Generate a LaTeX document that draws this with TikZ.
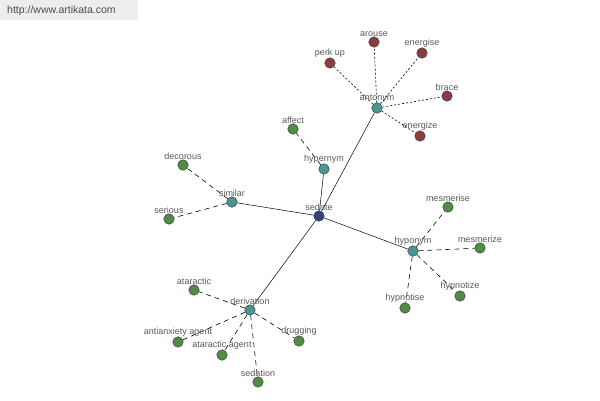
\documentclass[tikz,border=0pt]{standalone}
\usepackage{fontspec}
\setmainfont{Liberation Sans}
\usetikzlibrary{backgrounds}
\begin{document}
\begin{tikzpicture}[x=1pt,y=-1pt,
  dot/.style={circle,draw=black!75,line width=0.5pt,minimum size=10.5pt,inner sep=0pt,
    label={[lbl]above:#1}},
  lbl/.style={text=black!65,font=\fontsize{9}{10}\selectfont,inner sep=1pt,yshift=-1pt},
  teal/.style={fill=tealc},
  grn/.style={fill=greenc},
  red/.style={fill=redc},
  blu/.style={fill=bluec},
  main/.style={draw=black,line width=0.5pt},
  dsh/.style={draw=black,line width=0.6pt,dash pattern=on 5pt off 4pt},
  dot2/.style={draw=black,line width=0.6pt,dash pattern=on 2pt off 2pt}]
\definecolor{tealc}{RGB}{70,150,150}
\definecolor{greenc}{RGB}{80,140,70}
\definecolor{redc}{RGB}{140,60,60}
\definecolor{bluec}{RGB}{55,65,135}
\useasboundingbox (0,0) rectangle (600,400);
% nodes
\node[dot=sedate,blu] (sedate) at (319,216) {};
\node[dot=antonym,teal] (antonym) at (377,108) {};
\node[dot=hypernym,teal] (hypernym) at (324,169) {};
\node[dot=similar,teal] (similar) at (232,202) {};
\node[dot=hyponym,teal] (hyponym) at (413,251) {};
\node[dot=derivation,teal] (derivation) at (250,310) {};
\node[dot=arouse,red] (arouse) at (374,42) {};
\node[dot={perk up},red] (perkup) at (330,63) {};
\node[dot=energise,red] (energise) at (422,53) {};
\node[dot=brace,red] (brace) at (447,96) {};
\node[dot=energize,red] (energize) at (420,136) {};
\node[dot=affect,grn] (affect) at (293,129) {};
\node[dot=decorous,grn] (decorous) at (183,165) {};
\node[dot=serious,grn] (serious) at (169,219) {};
\node[dot=mesmerise,grn] (mesmerise) at (448,207) {};
\node[dot=mesmerize,grn] (mesmerize) at (480,248) {};
\node[dot=hypnotize,grn] (hypnotize) at (460,296) {};
\node[dot=hypnotise,grn] (hypnotise) at (405,308) {};
\node[dot=ataractic,grn] (ataractic) at (194,290) {};
\node[dot={antianxiety agent},grn] (anti) at (178,342) {};
\node[dot={ataractic agent},grn] (atag) at (222,355) {};
\node[dot=drugging,grn] (drugging) at (299,341) {};
\node[dot=sedation,grn] (sedation) at (258,382) {};
\node[anchor=west,text=black!70,font=\fontsize{10.5}{12}\selectfont,inner sep=0pt] (hdr) at (7,11) {http://www.artikata.com};
% background and edges
\begin{scope}[on background layer]
\fill[white] (0,0) rectangle (600,400);
\fill[black!7] (0,0) rectangle (138,20);
\foreach \a in {antonym,hypernym,similar,hyponym,derivation}
  \draw[main] (sedate) -- (\a);
\foreach \a in {arouse,perkup,energise,brace,energize}
  \draw[dot2] (antonym) -- (\a);
\draw[dsh] (hypernym) -- (affect);
\foreach \a in {decorous,serious}
  \draw[dsh] (similar) -- (\a);
\foreach \a in {mesmerise,mesmerize,hypnotize,hypnotise}
  \draw[dsh] (hyponym) -- (\a);
\foreach \a in {ataractic,anti,atag,drugging,sedation}
  \draw[dsh] (derivation) -- (\a);
\end{scope}
\end{tikzpicture}
\end{document}
